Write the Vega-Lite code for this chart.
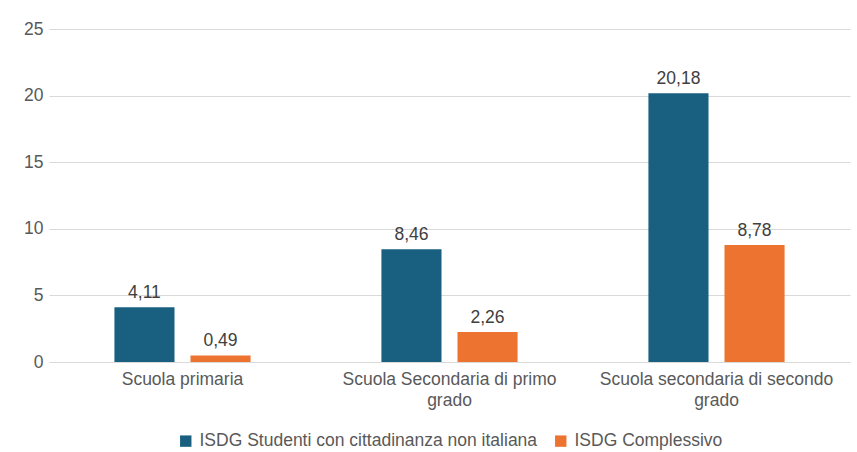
{
  "$schema": "https://vega.github.io/schema/vega-lite/v6.json",
  "width": 801,
  "height": 333,
  "autosize": "none",
  "padding": {"left": 49, "top": 29, "right": 7, "bottom": 90},
  "background": "white",
  "data": {
    "values": [
      {"scuola": "Scuola primaria", "serie": "ISDG Studenti con cittadinanza non italiana", "valore": 4.11},
      {"scuola": "Scuola primaria", "serie": "ISDG Complessivo", "valore": 0.49},
      {"scuola": "Scuola Secondaria di primo grado", "serie": "ISDG Studenti con cittadinanza non italiana", "valore": 8.46},
      {"scuola": "Scuola Secondaria di primo grado", "serie": "ISDG Complessivo", "valore": 2.26},
      {"scuola": "Scuola secondaria di secondo grado", "serie": "ISDG Studenti con cittadinanza non italiana", "valore": 20.18},
      {"scuola": "Scuola secondaria di secondo grado", "serie": "ISDG Complessivo", "valore": 8.78}
    ]
  },
  "encoding": {
    "x": {
      "field": "scuola",
      "type": "nominal",
      "sort": null,
      "title": null,
      "scale": {"paddingInner": 0.49, "paddingOuter": 0.245},
      "axis": {
        "labelAngle": 0,
        "ticks": false,
        "labelPadding": 8,
        "labelFontSize": 17.5,
        "labelColor": "#595959",
        "labelLineHeight": 21,
        "labelLimit": 400,
        "domainColor": "#d9d9d9",
        "labelExpr": "datum.label == 'Scuola Secondaria di primo grado' ? ['Scuola Secondaria di primo', 'grado'] : datum.label == 'Scuola secondaria di secondo grado' ? ['Scuola secondaria di secondo', 'grado'] : datum.label"
      }
    },
    "xOffset": {
      "field": "serie",
      "type": "nominal",
      "sort": ["ISDG Studenti con cittadinanza non italiana", "ISDG Complessivo"],
      "scale": {"paddingInner": 0.21, "paddingOuter": 0}
    },
    "y": {
      "field": "valore",
      "type": "quantitative",
      "title": null,
      "scale": {"domain": [0, 25], "nice": false},
      "axis": {
        "values": [0, 5, 10, 15, 20, 25],
        "domain": false,
        "ticks": false,
        "labelPadding": 6,
        "labelFontSize": 17.5,
        "labelColor": "#595959",
        "gridColor": "#d9d9d9",
        "format": "d"
      }
    }
  },
  "layer": [
    {
      "mark": {"type": "bar"},
      "encoding": {
        "color": {
          "field": "serie",
          "type": "nominal",
          "sort": ["ISDG Studenti con cittadinanza non italiana", "ISDG Complessivo"],
          "scale": {"range": ["#196080", "#ED7331"]},
          "legend": {
            "title": null,
            "orient": "bottom",
            "direction": "horizontal",
            "symbolType": "square",
            "symbolSize": 130,
            "symbolStrokeWidth": 0,
            "labelFontSize": 17.5,
            "labelColor": "#595959",
            "labelLimit": 500,
            "columnPadding": 14,
            "labelOffset": 5,
            "offset": 23
          }
        }
      }
    },
    {
      "mark": {"type": "text", "baseline": "alphabetic", "dy": -9, "fontSize": 17.5, "color": "#404040"},
      "encoding": {
        "text": {"field": "valore", "type": "quantitative", "format": ".2f"}
      }
    }
  ],
  "config": {
    "font": "Liberation Sans",
    "view": {"stroke": null},
    "locale": {
      "number": {"decimal": ",", "thousands": ".", "grouping": [3], "currency": ["€", ""]}
    },
    "legend": {"layout": {"bottom": {"anchor": "middle"}}}
  }
}
